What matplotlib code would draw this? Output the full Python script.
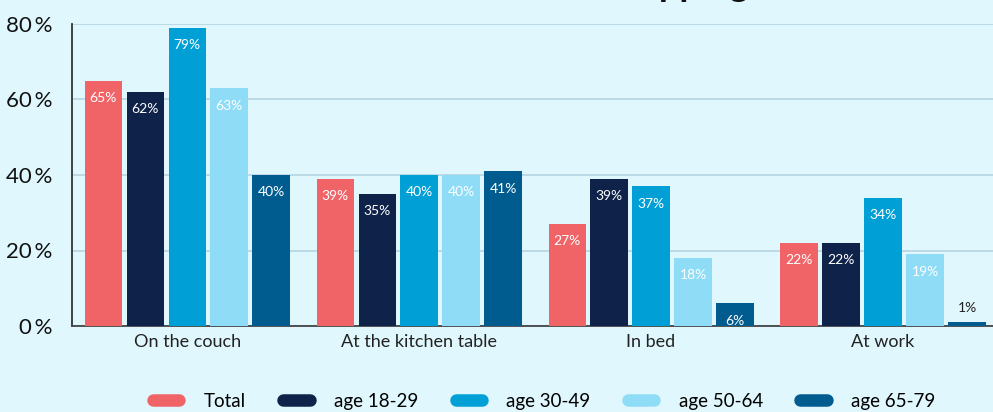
import numpy as np
import matplotlib.pyplot as plt
from matplotlib.lines import Line2D

plt.rcParams['font.family'] = ['Lato', 'DejaVu Sans']

# Survey data: where people shop, by age group
places = ['On the couch', 'At the kitchen table', 'In bed', 'At work']
groups = ['Total', 'age 18-29', 'age 30-49', 'age 50-64', 'age 65-79']
total = [65, 39, 27, 22]
age_18_29 = [62, 35, 39, 22]
age_30_49 = [79, 40, 37, 34]
age_50_64 = [63, 40, 18, 19]
age_65_79 = [40, 41, 6, 1]
series = [total, age_18_29, age_30_49, age_50_64, age_65_79]
colors = ['#f06468', '#0f224a', '#00a0d6', '#8fdcf7', '#005b8e']
bg = '#e0f7fe'

fig = plt.figure(figsize=(9.93, 4.12), dpi=100, facecolor=bg)
ax = fig.add_axes([72 / 993, 1 - 326 / 412, 1 - 72 / 993, (326 - 24) / 412])
ax.set_facecolor(bg)

x = np.arange(len(places))
step = 0.181
width = 0.16
for i, (vals, c) in enumerate(zip(series, colors)):
    pos = x + (i - 2) * step
    ax.bar(pos, vals, width=width, color=c, zorder=3)
    for p, v in zip(pos, vals):
        if v >= 5:
            ax.text(p, v - 4.6, f'{v}%', ha='center', va='center',
                    color='white', fontsize=10, zorder=4)
        else:
            ax.text(p, v + 3.8, f'{v}%', ha='center', va='center',
                    color='#222222', fontsize=10, zorder=4)

ax.set_xlim(-0.496, 3.474)
ax.set_ylim(0, 80)
ax.set_yticks([0, 20, 40, 60, 80])
ax.set_yticklabels(['0\u2009%', '20\u2009%', '40\u2009%', '60\u2009%', '80\u2009%'],
                   fontsize=16, color='#111111')
ax.set_xticks(x)
ax.set_xticklabels(places, fontsize=13, color='#222222')
ax.tick_params(length=0)
ax.tick_params(axis='y', pad=14)
ax.tick_params(axis='x', pad=6)
ax.grid(axis='y', color='#b5d5e0', linewidth=1.2, zorder=0)
for s in ['top', 'right']:
    ax.spines[s].set_visible(False)
ax.spines['left'].set_color('#333333')
ax.spines['left'].set_linewidth(1.3)
ax.spines['bottom'].set_color('#444444')
ax.spines['bottom'].set_linewidth(1.3)

# Title sits mostly above the visible area
fig.text(748 / 993, 1 + 4 / 412, 'Where we are shopping', ha='right',
         va='baseline', fontsize=26, fontweight='bold', color='#111111')

handles = [Line2D([0], [0], color=c, lw=9, solid_capstyle='round') for c in colors]
fig.legend(handles, groups, loc='center', bbox_to_anchor=(0.548, 0.026), ncol=5,
           frameon=False, fontsize=13.5, handlelength=1.4, handletextpad=1.3,
           columnspacing=2.0)

fig.savefig('out.png', dpi=100, facecolor=bg)
